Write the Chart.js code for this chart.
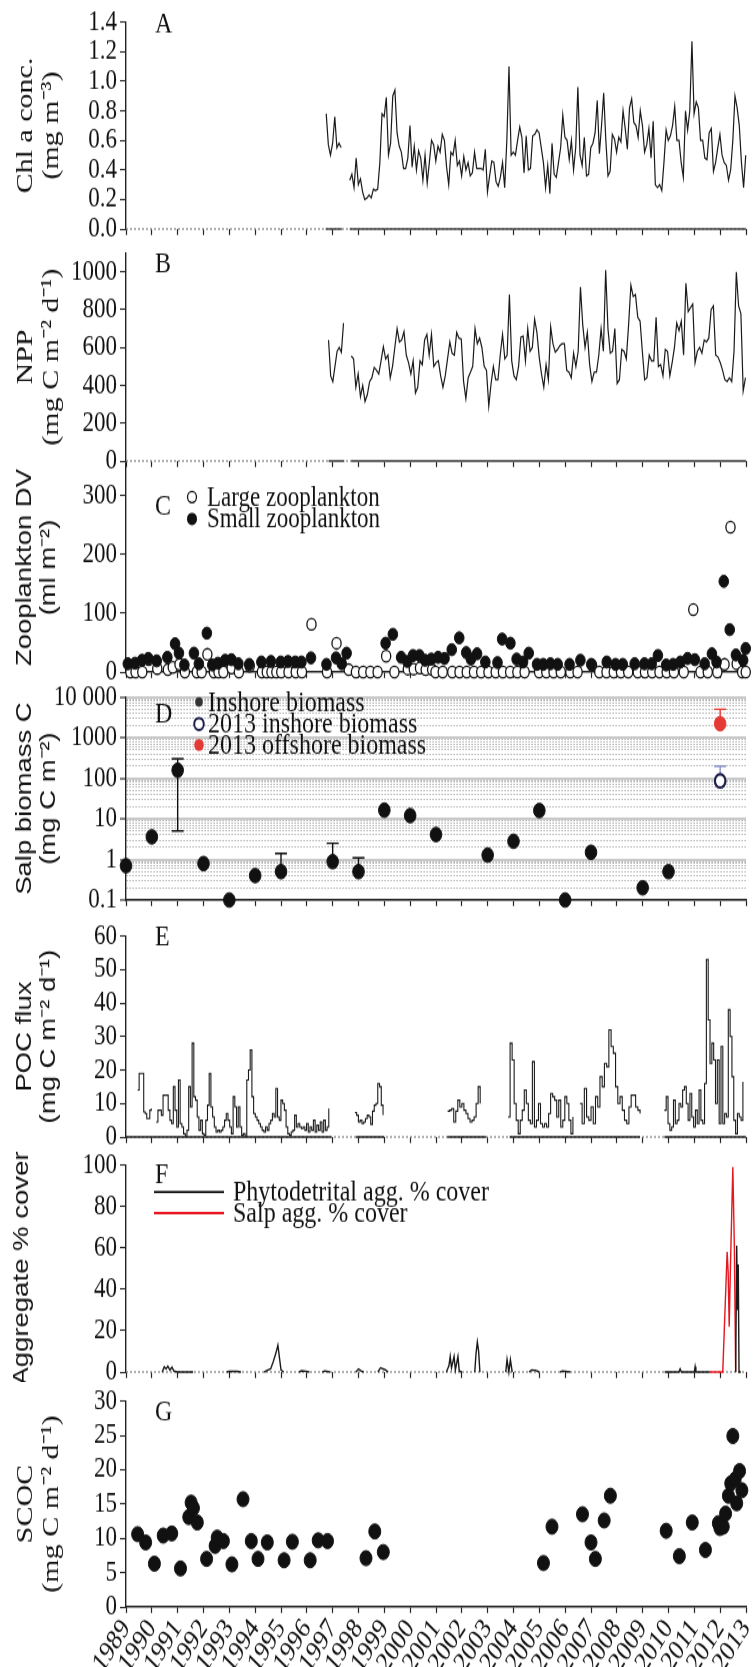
<!DOCTYPE html>
<html>
<head>
<meta charset="utf-8">
<script src="https://cdn.jsdelivr.net/npm/chart.js@4.4.1/dist/chart.umd.min.js"></script>
<style>
body { margin: 0; background: #fff; width: 754px; height: 1667px; position: relative; overflow: hidden; }
canvas { position: absolute; left: 0; }
</style>
</head>
<body>
<canvas id="pA"></canvas>
<canvas id="pB"></canvas>
<canvas id="pC"></canvas>
<canvas id="pD"></canvas>
<canvas id="pE"></canvas>
<canvas id="pF"></canvas>
<canvas id="pG"></canvas>
<script>
// x axis: years
var yearLabels = ['1989','1990','1991','1992','1993','1994','1995','1996','1997','1998','1999','2000',
    '2001','2002','2003','2004','2005','2006','2007','2008','2009','2010','2011','2012','2013'];

// A - Chl a (monthly)
var chlSpans = [[1996.75, 1997.33], [1997.66, 2012.99]];
var chlSeg1 = [0.78,0.57,0.50,0.58,0.76,0.55,0.58,0.55];
var chlSeg2 = [0.33,0.37,0.28,0.48,0.30,0.34,0.25,0.20,0.21,0.23,0.21,0.27,0.26,0.27,0.45,0.78,0.76,0.89,
    0.50,0.58,0.90,0.94,0.65,0.56,0.52,0.41,0.41,0.48,0.70,0.42,0.56,0.40,0.53,0.48,0.33,0.50,0.31,0.45,
    0.60,0.57,0.46,0.56,0.52,0.64,0.60,0.42,0.30,0.52,0.50,0.60,0.43,0.46,0.36,0.49,0.40,0.45,0.36,0.38,
    0.52,0.41,0.41,0.41,0.40,0.54,0.25,0.36,0.46,0.45,0.32,0.29,0.35,0.45,0.28,0.60,1.10,0.50,0.52,0.50,
    0.60,0.69,0.62,0.38,0.63,0.40,0.41,0.63,0.64,0.67,0.65,0.55,0.45,0.28,0.43,0.24,0.58,0.37,0.35,0.45,
    0.55,0.77,0.62,0.60,0.47,0.60,0.40,0.55,0.96,0.50,0.43,0.62,0.36,0.37,0.55,0.58,0.65,0.87,0.51,0.70,
    0.92,0.60,0.36,0.39,0.64,0.61,0.52,0.62,0.59,0.80,0.68,0.54,0.82,0.88,0.72,0.70,0.62,0.80,0.70,0.52,
    0.57,0.68,0.48,0.73,0.30,0.28,0.30,0.26,0.45,0.67,0.60,0.63,0.70,0.83,0.60,0.60,0.45,0.35,0.80,0.67,
    0.80,1.27,0.78,0.86,0.82,0.60,0.60,0.48,0.47,0.65,0.68,0.39,0.45,0.55,0.64,0.50,0.45,0.43,0.33,0.40,
    0.60,0.90,0.82,0.70,0.45,0.28,0.50];
var chlCover = [[1996.73, 1997.36], [1997.66, 2013]];

// B - NPP
var nppSpans = [[1996.84, 1997.42], [1997.72, 2012.98]];
var nppSeg1 = [640,450,420,500,580,600,575,730];
var nppSeg2 = [555,540,390,460,340,400,315,350,420,440,495,480,460,530,605,540,560,440,500,600,
    700,630,640,685,560,520,460,530,360,390,530,510,640,670,560,670,500,520,530,450,
    390,450,540,630,570,560,680,650,645,420,330,440,470,500,700,620,650,600,500,480,
    290,410,500,430,430,560,670,540,560,880,530,450,430,500,655,660,530,700,580,600,
    750,680,550,460,390,510,430,710,620,575,590,610,620,620,480,470,440,570,500,580,
    920,720,600,680,510,420,470,470,560,700,580,1010,700,570,580,700,410,430,590,580,
    540,720,930,870,880,760,740,580,430,440,560,530,530,760,500,510,450,590,580,450,
    520,600,730,690,740,560,940,790,810,830,520,580,600,570,640,630,650,800,820,560,
    550,520,480,430,420,440,420,580,1000,820,780,370,440];
var nppCover = [[1996.84, 1997.45], [1997.72, 2013]];

// C - zooplankton
var smallYears = [1989.07,1989.35,1989.62,1989.86,1990.19,1990.60,1990.90,1991.05,1991.26,1991.63,1991.82,
    1992.13,1992.34,1992.56,1992.84,1993.08,1993.35,1993.77,1994.24,1994.61,1994.99,1995.27,1995.55,1995.79,
    1996.16,1996.76,1997.13,1997.35,1997.54,1999.05,1999.33,1999.65,1999.89,2000.11,2000.36,2000.58,2000.82,
    2001.08,2001.33,2001.61,2001.90,2002.17,2002.35,2002.59,2002.91,2003.38,2003.56,2003.88,2004.12,2004.37,
    2004.59,2004.91,2005.15,2005.43,2005.71,2006.17,2006.59,2007.01,2007.61,2007.95,2008.23,2008.69,2009.07,
    2009.35,2009.59,2009.91,2010.18,2010.46,2010.74,2011.02,2011.40,2011.68,2011.86,2012.14,2012.37,2012.61,
    2012.89,2012.99];
var smallValues = [14,15,20,23,19,25,48,32,12,32,14,66,12,15,20,21,14,13,17,18,17,18,17,17,24,13,24,14,32,
    49,64,25,18,28,28,20,22,25,23,38,58,33,22,31,17,16,56,49,22,17,32,13,13,14,13,13,20,13,17,13,13,14,14,
    14,28,12,13,17,23,21,14,31,17,154,72,29,20,40];
var largeYears = [1989.17,1989.37,1989.63,1989.88,1990.21,1990.62,1990.81,1991.07,1991.28,1991.74,1991.93,
    1992.15,1992.40,1992.58,1992.77,1993.09,1993.37,1993.79,1994.26,1994.45,1994.63,1994.82,1995.01,1995.29,
    1995.57,1995.81,1996.18,1996.78,1997.15,1997.62,1997.90,1998.18,1998.46,1998.74,1999.07,1999.39,1999.91,
    2000.14,2000.38,2000.60,2000.85,2000.98,2001.26,2001.63,2001.91,2002.19,2002.47,2002.75,2003.03,2003.31,
    2003.59,2003.87,2004.15,2004.43,2004.99,2005.27,2005.55,2005.83,2006.20,2006.48,2007.04,2007.32,2007.60,
    2007.88,2008.16,2008.44,2008.81,2009.09,2009.37,2009.65,2009.93,2010.21,2010.59,2010.96,2011.24,2011.52,
    2011.89,2012.17,2012.40,2012.64,2012.85,2012.99];
var largeValues = [0,0,0,21,6,4,8,13,0,0,0,30,0,0,0,7,0,10,0,0,0,0,0,0,0,0,81,0,49,4,0,0,0,0,27,0,5,
    5,7,4,4,0,0,0,0,0,0,0,0,0,0,0,0,0,0,0,0,0,0,0,12,0,0,0,0,0,0,0,0,0,0,0,0,106,0,0,0,13,246,14,0,0];

// D - salp biomass (log)
var salpYears = [1989,1990,1991,1992,1993,1994,1995,1997,1998,1999,2000,2001,2003,2004,2005,2006,2007,2009,2010];
var salpValues = [0.7,3.6,157,0.79,0.1,0.4,0.5,0.88,0.5,16.3,12,4.1,1.28,2.8,16,0.1,1.5,0.2,0.5];
var salpErrLow = [null,null,5,null,null,null,null,null,null,null,null,null,null,null,null,null,null,null,null];
var salpErrHigh = [null,null,300,null,null,null,1.4,2.5,1.1,null,null,null,null,null,null,null,null,null,null];
var salpInshore2013 = {year: 2012, value: 86, high: 197};
var salpOffshore2013 = {year: 2012, value: 2200, high: 5000};
var logTickValues = [0.1, 1, 10, 100, 1000, 10000];
var logTickLabels = ['0.1', '1', '10', '100', '1000', '10 000'];

// E - POC flux (sediment trap segments)
var pocSpans = [[1989.45,1989.98],[1990.17,1996.85],[1997.86,1998.95],[2001.45,2002.71],[2003.79,2006.3],
    [2006.57,2008.9],[2009.84,2012.88]];
var pocValues = [
    [14,19,19,19,7.5,7,5.5,5.5,8,8.5],
    [4.5,8,8,6.5,12.5,12.5,12.5,8,5,4,15,8,3,17,4,3,1,0.3,2,15,9,28,12,11,6,2,5,1,0.5,5,9.5,19,9,6,3,1.5,
     2,1.5,2,3,5,7,5,3,1,12,9,3,9,3,0.5,1,0.3,17,20,26,12,7,6,5,4,3,2,1.5,3,2,4,5,7,6,14.5,6,5,11,10,8,3,1,
     0.5,1.5,2,6.5,3,4,3,2.5,3,2,4,1.5,3,2,5,1.5,3.5,2,4.5,1.5,5,2,3,8.5],
    [7.3,6.5,4.5,5,4,4.5,5.5,6.5,6,3.8,7.7,9.5,10,16,15,9.5,6.5],
    [7.7,8,8.5,4.5,7.7,11,9,10,8,7,5.5,4.5,5,6,10,15,10],
    [6,28,23,10,5,1,5,8,14,10,5,4,22.5,3,5,10,4,3,4,3,7,13,12,11,6,11,3,5,12,10,5,1,6],
    [10,4,14.5,6,5,9,4,12,9,18,15,22,21,32,27,25,15,10,12,8,5,4,9,12.5,12.5,9,8,7],
    [8,12,4,2,3,11,4,5,10,9,14,15,10,5,13,6,3,8,4,14,5,4,16,53,35,22,28,23,10,23,4,27,4,7,6,38,30,18,5,1,7,6,5,16.5]
];
var pocCover = [[1989, 1996.95], [1997.9, 1999.0], [2001.44, 2002.94], [2003.85, 2008.9], [2009.84, 2013]];

// F - aggregate % cover (null = gap)
var phytoYears = [1990.40,1990.48,1990.55,1990.62,1990.70,1990.78,1990.85,1991.0,1991.6,1991.61,
    1992.9,1993.0,1993.3,1993.45,1993.46,
    1994.35,1994.5,1994.6,1994.7,1994.8,1994.88,1994.95,1995.0,1995.1,1995.11,
    1995.7,1995.8,1995.95,1996.1,1996.11,1996.6,1996.7,1996.9,1996.91,
    1997.9,1998.0,1998.1,1998.2,1998.21,1998.75,1998.85,1998.95,1999.05,1999.15,1999.16,
    2001.4,2001.5,2001.55,2001.6,2001.7,2001.75,2001.85,2001.9,2002.0,2002.01,
    2002.5,2002.55,2002.6,2002.65,2002.7,2002.71,
    2003.7,2003.75,2003.82,2003.88,2003.95,2003.96,
    2004.6,2004.7,2004.85,2005.0,2005.01,2005.8,2005.9,2006.2,2006.21,
    2009.85,2010.4,2010.45,2010.5,2011.0,2011.03,2011.06,2011.6,2011.61,
    2012.6,2012.64,2012.67,2012.7,2012.73,2012.8];
var phytoValues = [0,2.5,1.5,2.8,1,2.3,0.5,0,0,null,
    0,0.4,0.3,0,null,
    0,1,1.5,5,9,13,6,1,0,null,
    0,0.6,0.4,0,null,0,0.5,0,null,
    0,1.5,0.5,0,null,0,2,1.5,1,0,null,
    0,3,7.5,2,7.5,1,7.5,0.5,0,null,
    0,9,14.5,10,0,null,
    0,6,0,6,0,null,
    0,1,0.8,0,null,0,0.5,0,null,
    0,0,1.5,0,0,2.5,0,0,null,
    0,61,30,52,0,0];
var salpAggYears = [2011.6, 2012.0, 2012.1, 2012.27, 2012.31, 2012.35, 2012.4, 2012.49, 2012.55, 2012.6];
var salpAggValues = [0, 0, 0, 58, 48, 22, 52, 99, 60, 0];

// G - SCOC
var scocYears = [1989.45,1989.76,1990.10,1990.44,1990.77,1991.11,1991.43,1991.52,1991.61,1991.76,1992.12,
    1992.45,1992.53,1992.77,1993.10,1993.53,1993.85,1994.11,1994.47,1995.12,1995.44,1996.13,1996.44,1996.80,
    1998.29,1998.63,1998.96,2005.16,2005.49,2006.67,2007.0,2007.17,2007.51,2007.75,2009.91,2010.42,2010.92,
    2011.43,2011.93,2011.99,2012.12,2012.21,2012.32,2012.41,2012.49,2012.58,2012.64,2012.75,2012.84];
var scocValues = [10.6,9.4,6.3,10.4,10.7,5.6,13.1,15.2,14.4,12.3,7.0,8.9,10.1,9.6,6.2,15.7,9.6,7.0,9.4,6.8,
    9.5,6.8,9.7,9.6,7.1,11.0,8.0,6.4,11.7,13.5,9.4,7.0,12.6,16.2,11.1,7.4,12.3,8.3,12.2,11.5,11.7,13.6,16.2,
    18.0,24.9,18.6,15.1,19.8,17.0];

var SERIF = '"Liberation Serif", "Times New Roman", serif';
var SANS = '"Liberation Sans", Arial, sans-serif';
var INK = '#111';
var AXIS = '#222';
var PLOT_L = 126, PLOT_R = 746, PAD_T = 22;
var S = 1.25; // the figure is stretched vertically: canvases are drawn short and shown tall
var TICK_PX = 23, TXT_PX = 24;

Chart.defaults.font.family = SERIF;
Chart.defaults.color = INK;

function pts(xs, ys) {
    return xs.map(function (x, i) { return {x: x, y: ys[i]}; });
}
function spread(span, vals) {
    var n = vals.length;
    return vals.map(function (v, i) {
        return {x: span[0] + (span[1] - span[0]) * i / (n - 1), y: v};
    });
}
function joinSegs(segs) {
    var out = [];
    segs.forEach(function (s, k) {
        if (k) out.push({x: s[0].x - 0.001, y: null});
        out = out.concat(s);
    });
    return out;
}
function coverLine(spans) {
    return joinSegs(spans.map(function (s) { return [{x: s[0], y: 0}, {x: s[1], y: 0}]; }));
}
function dottedBase() {
    return {data: [{x: 1989, y: 0}, {x: 2013, y: 0}], borderColor: '#8a8a8a', borderWidth: 1.3,
        borderDash: [2, 2], pointRadius: 0, clip: false, order: 10};
}
function lineSet(data, color, width, extra) {
    return Object.assign({data: data, borderColor: color, borderWidth: width, pointRadius: 0,
        spanGaps: false, clip: false}, extra || {});
}

function xScale(showLabels, border, xH) {
    return {
        type: 'linear', min: 1989, max: 2013,
        border: {display: border, color: AXIS, width: 1.4},
        grid: {drawOnChartArea: false, drawTicks: true, tickLength: 6 / S, tickColor: AXIS, tickWidth: 1.2},
        ticks: {stepSize: 1, autoSkip: false, display: showLabels, maxRotation: 52, minRotation: 52,
            padding: 0, color: INK, font: {family: SERIF, size: TICK_PX},
            callback: function (v) { return yearLabels[Math.round(v) - 1989]; }},
        afterFit: function (s) { s.height = xH / S; s.paddingLeft = 0; s.paddingRight = 0; }
    };
}
function yScale(opts) {
    return {
        type: opts.type || 'linear', min: opts.min, max: opts.max,
        border: {display: true, color: AXIS, width: 1.4},
        grid: {drawOnChartArea: false, drawTicks: true, tickLength: 6, tickColor: AXIS, tickWidth: 1.1},
        ticks: {stepSize: opts.step, includeBounds: false, autoSkip: false, padding: 3, color: INK,
            font: {family: SERIF, size: TICK_PX}, callback: opts.fmt || function (v) { return String(v); }},
        title: {display: true, text: opts.title, color: INK,
            font: {family: opts.titleFont || SERIF, size: opts.titleSize || 24, lineHeight: 1.08},
            padding: {top: opts.titlePad || 13, bottom: 0}},
        afterFit: function (s) { s.width = PLOT_L; s.paddingTop = 0; s.paddingBottom = 0; }
    };
}

// panel letter, legends and error bars
var annot = {
    id: 'annot',
    beforeDatasetsDraw: function (chart, args, o) {
        if (!o.bars) return;
        var ctx = chart.ctx, xs = chart.scales.x, ys = chart.scales.y;
        ctx.save();
        o.bars.forEach(function (b) {
            var x = xs.getPixelForValue(b.x);
            var y0 = ys.getPixelForValue(b.lo), y1 = ys.getPixelForValue(b.hi);
            ctx.strokeStyle = b.color; ctx.lineWidth = 1.4;
            ctx.beginPath();
            ctx.moveTo(x, y0); ctx.lineTo(x, y1);
            ctx.moveTo(x - 6, y1); ctx.lineTo(x + 6, y1);
            if (b.capLo) { ctx.moveTo(x - 6, y0); ctx.lineTo(x + 6, y0); }
            ctx.stroke();
        });
        ctx.restore();
    },
    afterDraw: function (chart, args, o) {
        var ctx = chart.ctx, a = chart.chartArea;
        ctx.save();
        ctx.textBaseline = 'middle';
        ctx.textAlign = 'left';
        if (o.letter) {
            ctx.fillStyle = INK;
            ctx.font = TXT_PX + 'px ' + SERIF;
            ctx.fillText(o.letter, a.left + 29, a.top + o.ly / S);
        }
        (o.items || []).forEach(function (it) {
            var x = a.left + it.x, y = a.top + it.y / S;
            ctx.fillStyle = it.color; ctx.strokeStyle = it.color;
            if (it.kind === 'line') {
                ctx.lineWidth = 1.8;
                ctx.beginPath(); ctx.moveTo(x, y); ctx.lineTo(x + it.len, y); ctx.stroke();
            } else {
                ctx.beginPath(); ctx.arc(x, y, it.r, 0, 2 * Math.PI);
                if (it.kind === 'open') {
                    ctx.fillStyle = '#fff'; ctx.fill();
                    ctx.lineWidth = it.lw || 1.3; ctx.stroke();
                } else {
                    ctx.fill();
                }
            }
            ctx.fillStyle = INK;
            ctx.font = (o.textPx || TXT_PX) + 'px ' + SERIF;
            ctx.fillText(it.text, a.left + it.tx, y + 1);
        });
        ctx.restore();
    }
};

function makePanel(id, top, bottom, xH, datasets, x, y, annotOpts) {
    var cv = document.getElementById(id);
    var h = bottom - top + PAD_T + xH;
    cv.width = 754;
    cv.height = Math.round(h / S);
    cv.style.width = '754px';
    cv.style.height = h + 'px';
    cv.style.top = (top - PAD_T) + 'px';
    return new Chart(cv, {
        type: 'line',
        data: {datasets: datasets},
        plugins: [annot],
        options: {
            responsive: false,
            animation: false,
            devicePixelRatio: 1,
            layout: {padding: {top: PAD_T / S, right: 754 - PLOT_R, bottom: 0, left: 0}},
            scales: {x: x, y: y},
            plugins: {legend: {display: false}, tooltip: {enabled: false}, annot: annotOpts}
        }
    });
}

// A
makePanel('pA', 22, 229, 10, [
    dottedBase(),
    lineSet(coverLine(chlCover), '#444', 1.4),
    lineSet(joinSegs([spread(chlSpans[0], chlSeg1), spread(chlSpans[1], chlSeg2)]), '#1a1a1a', 1.2)
], xScale(false, false, 10),
    yScale({min: 0, max: 1.4, step: 0.2, title: ['Chl a conc.', '(mg m\u207B\u00B3)'],
        fmt: function (v) { return v.toFixed(1); }}),
    {letter: 'A', ly: 3});

// B
makePanel('pB', 253, 461, 10, [
    dottedBase(),
    lineSet(coverLine(nppCover), '#666', 2.2),
    lineSet(joinSegs([spread(nppSpans[0], nppSeg1), spread(nppSpans[1], nppSeg2)]), '#1a1a1a', 1.2)
], xScale(false, false, 10),
    yScale({min: 0, max: 1100, step: 200, title: ['NPP', '(mg C m\u207B\u00B2 d\u207B\u00B9)']}),
    {letter: 'B', ly: 12});

// C
makePanel('pC', 463, 672, 10, [
    {data: pts(smallYears, smallValues), showLine: false, pointRadius: 4.8, pointBackgroundColor: INK,
        pointBorderColor: INK, pointBorderWidth: 1, clip: false},
    {data: pts(largeYears, largeValues), showLine: false, pointRadius: 4.6, pointBackgroundColor: '#fff',
        pointBorderColor: INK, pointBorderWidth: 1.3, clip: false}
], xScale(false, true, 10),
    yScale({min: 0, max: 355, step: 100, title: ['Zooplankton DV', '(ml m\u207B\u00B2)'],
        titleFont: SANS, titleSize: 22}),
    {letter: 'C', ly: 44, textPx: 23, items: [
        {kind: 'open', color: INK, r: 4.5, x: 66, y: 34, tx: 81, text: 'Large zooplankton'},
        {kind: 'filled', color: INK, r: 5, x: 66, y: 56, tx: 81, text: 'Small zooplankton'}
    ]});

// D
var salpBars = [];
salpYears.forEach(function (yr, i) {
    if (salpErrHigh[i] !== null) {
        salpBars.push({x: yr, lo: salpErrLow[i] !== null ? salpErrLow[i] : salpValues[i],
            hi: salpErrHigh[i], capLo: salpErrLow[i] !== null, color: INK});
    }
});
salpBars.push({x: salpInshore2013.year, lo: salpInshore2013.value, hi: salpInshore2013.high, color: '#8b90c9'});
salpBars.push({x: salpOffshore2013.year, lo: salpOffshore2013.value, hi: salpOffshore2013.high, color: '#e53935'});

var yD = yScale({type: 'logarithmic', min: 0.1, max: 10000, title: ['Salp biomass C', '(mg C m\u207B\u00B2)'],
    titleFont: SANS, titleSize: 22});
yD.afterBuildTicks = function (s) {
    var t = [];
    logTickValues.forEach(function (d, k) {
        t.push({value: d, major: true});
        if (k < logTickValues.length - 1) {
            for (var m = 2; m <= 9; m++) t.push({value: +(d * m).toPrecision(3), major: false});
        }
    });
    s.ticks = t;
};
yD.ticks.callback = function (v, i, ticks) {
    var k = logTickValues.indexOf(v);
    return ticks[i] && ticks[i].major && k >= 0 ? logTickLabels[k] : '';
};
yD.grid = {
    drawOnChartArea: true, drawTicks: true, tickLength: 6, tickWidth: 1.1,
    color: function (c) { return c.tick && c.tick.major ? '#c9c9c9' : '#a8a8a8'; },
    lineWidth: function (c) { return c.tick && c.tick.major ? 2 : 0.9; },
    tickColor: function (c) { return c.tick && c.tick.major ? AXIS : 'rgba(0,0,0,0)'; }
};
yD.border = {display: true, color: AXIS, width: 1.4,
    dash: function (c) { return c.tick && !c.tick.major ? [1.5, 1.5] : []; }};

makePanel('pD', 697, 900, 10, [
    {data: pts(salpYears, salpValues), showLine: false, pointRadius: 5.8, pointBackgroundColor: INK,
        pointBorderColor: INK, clip: false},
    {data: [{x: salpInshore2013.year, y: salpInshore2013.value}], showLine: false, pointRadius: 5.3,
        pointBackgroundColor: '#fff', pointBorderColor: '#1c1c4a', pointBorderWidth: 2.2, clip: false},
    {data: [{x: salpOffshore2013.year, y: salpOffshore2013.value}], showLine: false, pointRadius: 5.8,
        pointBackgroundColor: '#e53935', pointBorderColor: '#e53935', clip: false}
], xScale(false, true, 10), yD,
    {letter: 'D', ly: 18, bars: salpBars, items: [
        {kind: 'filled', color: '#333', r: 3.8, x: 73, y: 5, tx: 82, text: 'Inshore biomass'},
        {kind: 'open', color: '#1c1c4a', r: 4.8, lw: 2, x: 73, y: 27, tx: 82, text: '2013 inshore biomass'},
        {kind: 'filled', color: '#e53935', r: 4.8, x: 73, y: 48, tx: 82, text: '2013 offshore biomass'}
    ]});

// E
makePanel('pE', 936, 1137, 10, [
    dottedBase(),
    lineSet(coverLine(pocCover), AXIS, 1.3),
    lineSet(joinSegs(pocSpans.map(function (s, k) { return spread(s, pocValues[k]); })), '#1a1a1a', 1.1,
        {stepped: true})
], xScale(false, false, 10),
    yScale({min: 0, max: 60, step: 10, title: ['POC flux', '(mg C m\u207B\u00B2 d\u207B\u00B9)'],
        titleFont: SANS, titleSize: 22}),
    {letter: 'E', ly: 2});

// F
makePanel('pF', 1165, 1372, 10, [
    dottedBase(),
    lineSet(pts(phytoYears, phytoValues), '#1a1a1a', 1.4),
    lineSet(pts(salpAggYears, salpAggValues), '#e8161e', 1.4)
], xScale(false, false, 10),
    yScale({min: 0, max: 100, step: 20, title: 'Aggregate % cover', titleFont: SANS, titleSize: 22,
        titlePad: 10}),
    {letter: 'F', ly: 10, items: [
        {kind: 'line', color: '#1a1a1a', len: 70, x: 28, y: 27, tx: 107, text: 'Phytodetrital agg. % cover'},
        {kind: 'line', color: '#e8161e', len: 70, x: 28, y: 48, tx: 107, text: 'Salp agg. % cover'}
    ]});

// G
makePanel('pG', 1401, 1607, 60, [
    {data: pts(scocYears, scocValues), showLine: false, pointRadius: 6, pointBackgroundColor: INK,
        pointBorderColor: INK, clip: false}
], xScale(true, true, 60),
    yScale({min: 0, max: 30, step: 5, title: ['SCOC', '(mg C m\u207B\u00B2 d\u207B\u00B9)']}),
    {letter: 'G', ly: 11});
</script>
</body>
</html>
